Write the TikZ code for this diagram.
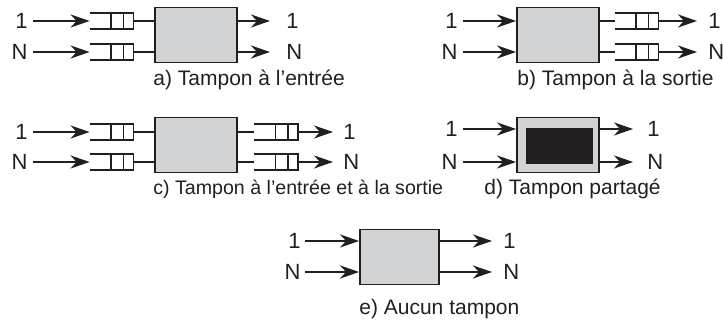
\documentclass[tikz,border=0pt]{standalone}
\usepackage{fontspec}
\setmainfont{Liberation Sans}
\usetikzlibrary{arrows.meta,calc}
\definecolor{bufink}{HTML}{231F20}
\definecolor{bufgray}{HTML}{D1D3D4}

\begin{document}
\begin{tikzpicture}[
    x=0.5pt, y=-0.5pt,
    every node/.style={font=\fontsize{10.5}{12}\selectfont, text=bufink},
    switch/.style={draw=bufink, line width=0.9pt, fill=bufgray, minimum width=41pt, minimum height=27.5pt, inner sep=0pt},
    fifo/.style={minimum width=21.5pt, minimum height=7.5pt, inner sep=0pt},
    fifoline/.style={draw=bufink, line width=0.7pt},
    inport/.style={anchor=east, inner xsep=2.5pt, inner ysep=0pt, font=\fontsize{11}{12}\selectfont},
    outport/.style={anchor=west, inner xsep=#1, inner ysep=0pt, font=\fontsize{11}{12}\selectfont},
    outport/.default=8pt,
    captxt/.style={anchor=base west, inner sep=0pt},
    arrow/.style={-{Stealth[length=9.5pt, width=6.5pt, inset=3pt]}, line width=1.2pt, draw=bufink},
    link/.style={line width=1.2pt, draw=bufink},
]
\useasboundingbox (0,0) rectangle (723,324);

% a) Tampon a l'entree
\node[switch] (sa) at (196,35) {};
\node[fifo] (qai1) at (111.5,21) {};
\node[fifo] (qaiN) at (111.5,52) {};
\node[inport] (ia1) at (33,21) {1};
\node[inport] (iaN) at (33,52) {N};
\node[outport] (oa1) at (270,21) {1};
\node[outport] (oaN) at (270,52) {N};
\node[captxt] (ca) at (153,86) {a) Tampon à l'entrée};

% b) Tampon a la sortie
\node[switch] (sb) at (558,35) {};
\node[fifo] (qbo1) at (636.5,21) {};
\node[fifo] (qboN) at (636.5,52) {};
\node[inport] (ib1) at (463,21) {1};
\node[inport] (ibN) at (463,52) {N};
\node[outport=5.5pt] (ob1) at (697,21) {1};
\node[outport=5.5pt] (obN) at (697,52) {N};
\node[captxt] (cb) at (517,86) {b) Tampon à la sortie};

% c) Tampon a l'entree et a la sortie
\node[switch] (sc) at (196,145) {};
\node[fifo] (qci1) at (111.5,132) {};
\node[fifo] (qciN) at (111.5,162) {};
\node[fifo] (qco1) at (276,132) {};
\node[fifo] (qcoN) at (276,162) {};
\node[inport] (ic1) at (33,132) {1};
\node[inport] (icN) at (33,162) {N};
\node[outport=5pt] (oc1) at (333,132) {1};
\node[outport=5pt] (ocN) at (333,162) {N};
\node[captxt, font=\fontsize{9.8}{12}\selectfont] (cc) at (153,195) {c) Tampon à l'entrée et à la sortie};

% d) Tampon partage
\node[switch] (sd) at (558,145) {};
\node[fill=bufink, minimum width=33.5pt, minimum height=18pt, inner sep=0pt] (md) at (559.5,146) {};
\node[inport] (id1) at (463,129) {1};
\node[inport] (idN) at (463,162) {N};
\node[outport=7pt] (od1) at (633,129) {1};
\node[outport=7pt] (odN) at (633,162) {N};
\node[captxt] (cd) at (484,195) {d) Tampon partagé};

% e) Aucun tampon
\node[switch, minimum width=39.5pt] (se) at (399.5,257) {};
\node[inport, inner xsep=2pt] (ie1) at (305,241) {1};
\node[inport, inner xsep=2pt] (ieN) at (305,272) {N};
\node[outport=5.5pt] (oe1) at (492,241) {1};
\node[outport=5.5pt] (oeN) at (492,272) {N};
\node[captxt] (ce) at (359,315) {e) Aucun tampon};

% queues
\foreach \q in {qai1,qaiN,qbo1,qboN,qci1,qciN,qco1,qcoN} {
    \draw[fifoline] (\q.north west) -- (\q.north east) -- (\q.south east) -- (\q.south west);
    \foreach \f in {0.49,0.77}
        \draw[fifoline] ($(\q.north west)!\f!(\q.north east)$) -- ($(\q.south west)!\f!(\q.south east)$);
}

% connectors
\foreach \r in {1,N} {
    \draw[arrow] (ia\r) -- (qai\r);
    \draw[link] (qai\r) -- (qai\r -| sa.west);
    \draw[arrow] (sa.east |- oa\r) -- (oa\r);

    \draw[arrow] (ib\r) -- (ib\r -| sb.west);
    \draw[link] (sb.east |- qbo\r) -- (qbo\r);
    \draw[arrow] (qbo\r) -- (ob\r);

    \draw[arrow] (ic\r) -- (qci\r);
    \draw[link] (qci\r) -- (qci\r -| sc.west);
    \draw[link] (sc.east |- qco\r) -- (qco\r);
    \draw[arrow] (qco\r) -- (oc\r);

    \draw[arrow] (id\r) -- (id\r -| sd.west);
    \draw[arrow] (sd.east |- od\r) -- (od\r);

    \draw[arrow] (ie\r) -- (ie\r -| se.west);
    \draw[arrow] (se.east |- oe\r) -- (oe\r);
}
\end{tikzpicture}
\end{document}
